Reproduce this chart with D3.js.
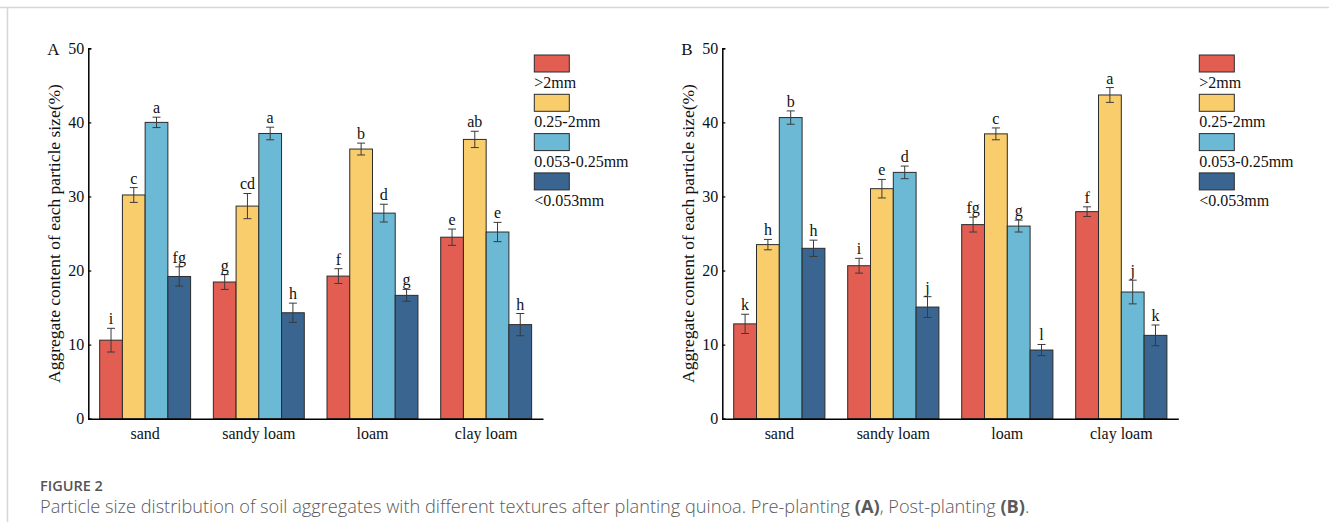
<!DOCTYPE html>
<html>
<head>
<meta charset="utf-8">
<script src="https://cdn.jsdelivr.net/npm/d3@7"></script>
<style>
  html, body { margin: 0; padding: 0; background: #fff; }
  svg { display: block; }
</style>
</head>
<body>
<svg id="fig" width="1329" height="522"></svg>
<script>
// Soil texture groups and aggregate size classes
const categories = ["sand", "sandy loam", "loam", "clay loam"];
const sizeClasses = [">2mm", "0.25-2mm", "0.053-0.25mm", "<0.053mm"];
const yTicks = [0, 10, 20, 30, 40, 50];

// Pre-planting (A): mean aggregate content (%) per texture, one entry per size class
const preMeans = [
  [10.6, 30.2, 40.0, 19.2],
  [18.45, 28.7, 38.5, 14.3],
  [19.25, 36.4, 27.75, 16.65],
  [24.5, 37.7, 25.2, 12.7]
];
const preErrors = [
  [1.6, 1.0, 0.7, 1.3],
  [1.0, 1.7, 0.85, 1.3],
  [1.0, 0.8, 1.2, 0.8],
  [1.1, 1.1, 1.3, 1.5]
];
const preLetters = [
  ["i", "c", "a", "fg"],
  ["g", "cd", "a", "h"],
  ["f", "b", "d", "g"],
  ["e", "ab", "e", "h"]
];

// Post-planting (B)
const postMeans = [
  [12.8, 23.5, 40.65, 23.0],
  [20.65, 31.05, 33.25, 15.07],
  [26.2, 38.45, 26.0, 9.27],
  [27.95, 43.7, 17.1, 11.25]
];
const postErrors = [
  [1.3, 0.7, 0.9, 1.1],
  [1.0, 1.25, 0.85, 1.4],
  [1.0, 0.8, 0.8, 0.75],
  [0.65, 1.0, 1.6, 1.4]
];
const postLetters = [
  ["k", "h", "b", "h"],
  ["i", "e", "d", "j"],
  ["fg", "c", "g", "l"],
  ["f", "a", "j", "k"]
];

const colors = ["#E35E52", "#FACD6C", "#6CB9D5", "#3A6590"];

const svg = d3.select("#fig");
const serif = "'Liberation Serif', 'Times New Roman', serif";

// Figure frame lines
svg.append("line").attr("x1", 0).attr("x2", 1329).attr("y1", 7.5).attr("y2", 7.5)
  .attr("stroke", "#d6d6d6").attr("stroke-width", 1.5);
svg.append("line").attr("x1", 7.5).attr("x2", 7.5).attr("y1", 7.5).attr("y2", 522)
  .attr("stroke", "#d6d6d6").attr("stroke-width", 1.5);

function drawPanel(opts) {
  const { left, right, tag, means, errors, letters, legendX } = opts;
  const top = 48.3, bottom = 418.7;

  const x0 = d3.scaleBand().domain(categories).range([left, right])
    .paddingInner(0.2).paddingOuter(0.1);
  const x1 = d3.scaleBand().domain(d3.range(sizeClasses.length))
    .range([0, x0.bandwidth()]).padding(0);
  const y = d3.scaleLinear().domain([0, 50]).range([bottom, top]);

  const g = svg.append("g");

  // Bars
  const groups = g.selectAll("g.cat").data(categories).join("g")
    .attr("class", "cat")
    .attr("transform", d => `translate(${x0(d)},0)`);

  groups.each(function (cat, ci) {
    const grp = d3.select(this);
    const rows = means[ci].map((v, si) => ({ v, e: errors[ci][si], l: letters[ci][si], si }));
    grp.selectAll("rect").data(rows).join("rect")
      .attr("x", d => x1(d.si))
      .attr("y", d => y(d.v))
      .attr("width", x1.bandwidth())
      .attr("height", d => y(0) - y(d.v))
      .attr("fill", d => colors[d.si])
      .attr("stroke", "#2b2b2b")
      .attr("stroke-width", 1);

    // Error bars
    const cap = 4;
    const eb = grp.selectAll("g.err").data(rows).join("g").attr("class", "err")
      .attr("stroke", "#3a3a3a").attr("stroke-width", 1);
    eb.append("line")
      .attr("x1", d => x1(d.si) + x1.bandwidth() / 2)
      .attr("x2", d => x1(d.si) + x1.bandwidth() / 2)
      .attr("y1", d => y(d.v - d.e)).attr("y2", d => y(d.v + d.e));
    eb.append("line")
      .attr("x1", d => x1(d.si) + x1.bandwidth() / 2 - cap)
      .attr("x2", d => x1(d.si) + x1.bandwidth() / 2 + cap)
      .attr("y1", d => y(d.v + d.e)).attr("y2", d => y(d.v + d.e));
    eb.append("line")
      .attr("x1", d => x1(d.si) + x1.bandwidth() / 2 - cap)
      .attr("x2", d => x1(d.si) + x1.bandwidth() / 2 + cap)
      .attr("y1", d => y(d.v - d.e)).attr("y2", d => y(d.v - d.e));

    // Significance letters
    grp.selectAll("text.sig").data(rows).join("text").attr("class", "sig")
      .attr("x", d => x1(d.si) + x1.bandwidth() / 2)
      .attr("y", d => y(d.v + d.e) - 4)
      .attr("text-anchor", "middle")
      .attr("font-family", serif).attr("font-size", 16).attr("fill", "#111")
      .text(d => d.l);
  });

  // Y axis
  const yAxis = d3.axisLeft(y).tickValues(yTicks).tickSize(-3).tickPadding(4);
  const ya = g.append("g").attr("transform", `translate(${left},0)`).call(yAxis);
  ya.select(".domain").attr("stroke", "#000").attr("stroke-width", 1.5);
  ya.selectAll(".tick line").attr("stroke", "#000").attr("stroke-width", 1.2);
  ya.selectAll(".tick text").attr("font-family", serif).attr("font-size", 16).attr("fill", "#111");

  // X axis
  const xAxis = d3.axisBottom(x0).tickSize(0).tickPadding(9);
  const xa = g.append("g").attr("transform", `translate(0,${bottom})`).call(xAxis);
  xa.select(".domain").attr("stroke", "#000").attr("stroke-width", 1.5);
  xa.selectAll(".tick text").attr("font-family", serif).attr("font-size", 16).attr("fill", "#111");

  // Y axis title
  g.append("text")
    .attr("transform", `translate(${left - 28},${(top + bottom) / 2}) rotate(-90)`)
    .attr("text-anchor", "middle")
    .attr("font-family", serif).attr("font-size", 17.5).attr("fill", "#111")
    .text("Aggregate content of each particle size(%)");

  // Panel tag
  g.append("text").attr("x", left - 41).attr("y", 55)
    .attr("font-family", serif).attr("font-size", 17).attr("fill", "#111")
    .text(tag);

  // Legend
  const lg = g.append("g").attr("transform", `translate(${legendX},55)`);
  sizeClasses.forEach((name, i) => {
    const yy = i * 39.3;
    lg.append("rect").attr("x", 0).attr("y", yy).attr("width", 35).attr("height", 17)
      .attr("fill", colors[i]).attr("stroke", "#2b2b2b").attr("stroke-width", 1);
    lg.append("text").attr("x", 0).attr("y", yy + 33)
      .attr("font-family", serif).attr("font-size", 16).attr("fill", "#111")
      .text(name);
  });
}

drawPanel({ left: 88.3, right: 543, tag: "A", means: preMeans, errors: preErrors,
  letters: preLetters, legendX: 534.3 });
drawPanel({ left: 722.3, right: 1178.3, tag: "B", means: postMeans, errors: postErrors,
  letters: postLetters, legendX: 1199.3 });

// Caption
const sans = "'Open Sans', 'Noto Sans', sans-serif";
svg.append("text").attr("x", 40).attr("y", 491)
  .attr("font-family", sans).attr("font-size", 14.5).attr("font-weight", 600)
  .attr("fill", "#555").text("FIGURE 2");
const cap = svg.append("text").attr("x", 40).attr("y", 513)
  .attr("font-family", sans).attr("font-size", 18.2).attr("font-weight", 300)
  .attr("fill", "#5a5a5a");
cap.append("tspan").text("Particle size distribution of soil aggregates with different textures after planting quinoa. Pre-planting ");
cap.append("tspan").attr("font-weight", 700).text("(A)");
cap.append("tspan").text(", Post-planting ");
cap.append("tspan").attr("font-weight", 700).text("(B)");
cap.append("tspan").text(".");
</script>
</body>
</html>
